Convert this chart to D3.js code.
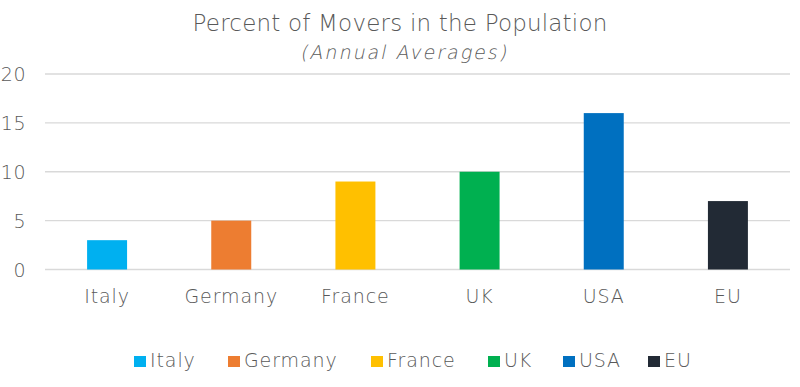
<!DOCTYPE html>
<html>
<head>
<meta charset="utf-8">
<script src="https://cdn.jsdelivr.net/npm/d3@7"></script>
<style>
  body { margin: 0; background: #fff; }
  text { font-family: "DejaVu Sans", sans-serif; fill: #595959; font-weight: 300; }
</style>
</head>
<body>
<div id="chart"></div>
<script>
// Chart size
const w = 800;
const h = 387;

// Data
const countries = ["Italy", "Germany", "France", "UK", "USA", "EU"];
const movers = [3, 5, 9, 10, 16, 7];
const colors = ["#00B0F0", "#ED7D31", "#FFC000", "#00B050", "#0070C0", "#222A35"];
const yTicks = [0, 5, 10, 15, 20];

const svg = d3.select("#chart")
    .append("svg")
    .attr("width", w)
    .attr("height", h);

// Scales
const xScale = d3.scaleBand()
    .domain(countries)
    .range([45, 790])
    .paddingInner(0.678)
    .paddingOuter(0.339);

const yScale = d3.scaleLinear()
    .domain([0, 20])
    .range([269.5, 74]);

// Gridlines
svg.append("g")
    .selectAll("line")
    .data(yTicks)
    .enter()
    .append("line")
    .attr("x1", 45)
    .attr("x2", 790)
    .attr("y1", d => yScale(d))
    .attr("y2", d => yScale(d))
    .attr("stroke", "#D9D9D9")
    .attr("stroke-width", 1.3);

// Y axis labels
const yAxis = d3.axisLeft(yScale).tickValues(yTicks).tickSize(0).tickPadding(0);
svg.append("g")
    .attr("transform", "translate(26,0)")
    .call(yAxis)
    .call(g => g.select(".domain").remove())
    .selectAll("text")
    .attr("font-size", "19px")
    .attr("dy", "0.36em")
    .style("font-family", "DejaVu Sans, sans-serif")
    .style("letter-spacing", "0.5px")
    .attr("fill", "#595959");

// Bars
svg.append("g")
    .selectAll("rect")
    .data(countries)
    .enter()
    .append("rect")
    .attr("x", d => xScale(d))
    .attr("y", (d, i) => yScale(movers[i]))
    .attr("width", xScale.bandwidth())
    .attr("height", (d, i) => yScale(0) - yScale(movers[i]))
    .attr("fill", (d, i) => colors[i]);

// X axis labels
const xAxis = d3.axisBottom(xScale).tickSize(0).tickPadding(0);
svg.append("g")
    .attr("transform", "translate(0,289)")
    .call(xAxis)
    .call(g => g.select(".domain").remove())
    .selectAll("text")
    .attr("font-size", "19px")
    .style("font-family", "DejaVu Sans, sans-serif")
    .style("letter-spacing", "0.9px")
    .attr("fill", "#595959");

// Title
svg.append("text")
    .attr("x", 400)
    .attr("y", 31)
    .attr("text-anchor", "middle")
    .attr("font-size", "23px")
    .style("letter-spacing", "0.2px")
    .text("Percent of Movers in the Population");

// no light italic installed, so slant the light face by hand
svg.append("text")
    .attr("transform", "translate(404,59) skewX(-12)")
    .attr("text-anchor", "middle")
    .attr("font-size", "19px")
    .style("letter-spacing", "2px")
    .text("(Annual Averages)");

// Legend
const legendX = [134, 228, 371, 488, 563, 648];
const legend = svg.append("g")
    .selectAll("g")
    .data(countries)
    .enter()
    .append("g")
    .attr("transform", (d, i) => `translate(${legendX[i]},356)`);

legend.append("rect")
    .attr("width", 12)
    .attr("height", 11)
    .attr("fill", (d, i) => colors[i]);

legend.append("text")
    .attr("x", 16)
    .attr("y", 11)
    .attr("font-size", "19px")
    .style("letter-spacing", "0.9px")
    .text(d => d);
</script>
</body>
</html>
